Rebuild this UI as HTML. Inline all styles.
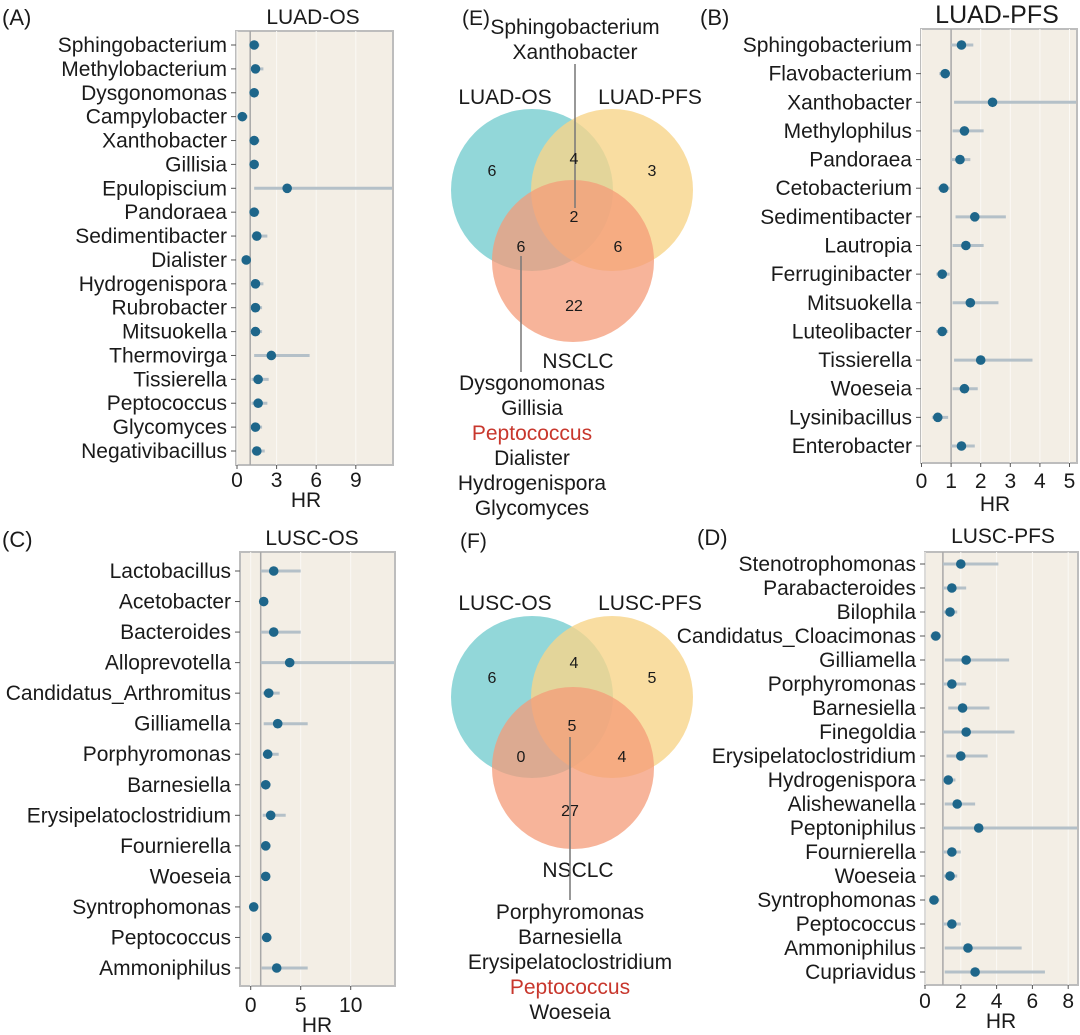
<!DOCTYPE html>
<html><head><meta charset="utf-8"><style>
body{margin:0;background:#fff}
svg{display:block;font-family:"Liberation Sans",sans-serif}
</style></head><body>
<svg id="fig" width="1080" height="1035" viewBox="0 0 1080 1035">
<g id="venn-e">
 <circle cx="532" cy="190" r="81" fill="#7fd0d2" opacity="0.85"/>
 <circle cx="612" cy="190" r="81" fill="#f7d58a" opacity="0.8"/>
 <circle cx="573" cy="261" r="81" fill="#f49b78" opacity="0.75"/>
</g>
<g id="venn-f">
 <circle cx="532" cy="697" r="81" fill="#7fd0d2" opacity="0.85"/>
 <circle cx="612" cy="697" r="81" fill="#f7d58a" opacity="0.8"/>
 <circle cx="573" cy="768" r="81" fill="#f49b78" opacity="0.75"/>
</g>
<g font-size="21" fill="#1a1a1a" text-anchor="middle">
 <text x="462" y="25" text-anchor="start">(E)</text>
 <text x="575" y="34">Sphingobacterium</text>
 <text x="575" y="59">Xanthobacter</text>
 <line x1="575" y1="64" x2="575" y2="208" stroke="#777" stroke-width="1.5"/>
 <text x="505" y="104">LUAD-OS</text>
 <text x="650" y="104">LUAD-PFS</text>
 <text x="578" y="368">NSCLC</text>
 <g font-size="16">
  <text x="492" y="176">6</text><text x="574" y="164">4</text><text x="652" y="176">3</text>
  <text x="574" y="222">2</text><text x="521" y="252">6</text><text x="618" y="252">6</text><text x="574" y="311">22</text>
 </g>
 <line x1="521" y1="256" x2="521" y2="372" stroke="#777" stroke-width="1.5"/>
 <text x="532" y="390">Dysgonomonas</text>
 <text x="532" y="415">Gillisia</text>
 <text x="532" y="440" fill="#c8372d">Peptococcus</text>
 <text x="532" y="465">Dialister</text>
 <text x="532" y="490">Hydrogenispora</text>
 <text x="532" y="515">Glycomyces</text>

 <text x="460" y="548" text-anchor="start">(F)</text>
 <text x="505" y="610">LUSC-OS</text>
 <text x="650" y="610">LUSC-PFS</text>
 <text x="578" y="877">NSCLC</text>
 <g font-size="16">
  <text x="492" y="683">6</text><text x="574" y="668">4</text><text x="652" y="683">5</text>
  <text x="572" y="731">5</text><text x="521" y="762">0</text><text x="622" y="762">4</text><text x="570" y="816">27</text>
 </g>
 <line x1="570" y1="737" x2="570" y2="900" stroke="#777" stroke-width="1.5"/>
 <text x="570" y="919">Porphyromonas</text>
 <text x="570" y="944">Barnesiella</text>
 <text x="570" y="969">Erysipelatoclostridium</text>
 <text x="570" y="994" fill="#c8372d">Peptococcus</text>
 <text x="570" y="1019">Woeseia</text>
</g>
<g id="forests"></g>
</svg>
<script>
// Panel A: LUAD-OS
const aNames=["Sphingobacterium","Methylobacterium","Dysgonomonas","Campylobacter","Xanthobacter","Gillisia","Epulopiscium","Pandoraea","Sedimentibacter","Dialister","Hydrogenispora","Rubrobacter","Mitsuokella","Thermovirga","Tissierella","Peptococcus","Glycomyces","Negativibacillus"];
const aHR=[1.3,1.4,1.3,0.4,1.3,1.3,3.8,1.3,1.5,0.7,1.4,1.4,1.4,2.6,1.6,1.6,1.4,1.5];
const aLow=[1.0,1.0,1.0,0.1,1.0,1.0,1.3,1.0,1.1,0.4,1.0,1.0,1.0,1.3,1.1,1.1,1.0,1.1];
const aHigh=[1.7,2.0,1.6,0.8,1.7,1.5,12,1.7,2.3,0.9,2.0,1.9,1.9,5.5,2.4,2.3,1.9,2.1];
const aTicks=[0,3,6,9];
// Panel B: LUAD-PFS
const bNames=["Sphingobacterium","Flavobacterium","Xanthobacter","Methylophilus","Pandoraea","Cetobacterium","Sedimentibacter","Lautropia","Ferruginibacter","Mitsuokella","Luteolibacter","Tissierella","Woeseia","Lysinibacillus","Enterobacter"];
const bHR=[1.35,0.8,2.4,1.45,1.3,0.75,1.8,1.5,0.7,1.65,0.7,2.0,1.45,0.55,1.35];
const bLow=[1.0,0.6,1.1,1.05,1.0,0.55,1.15,1.05,0.5,1.05,0.5,1.1,1.05,0.35,1.0];
const bHigh=[1.75,0.95,5.3,2.1,1.65,0.95,2.85,2.1,0.95,2.6,0.9,3.75,1.9,0.9,1.8];
const bTicks=[0,1,2,3,4,5];
// Panel C: LUSC-OS
const cNames=["Lactobacillus","Acetobacter","Bacteroides","Alloprevotella","Candidatus_Arthromitus","Gilliamella","Porphyromonas","Barnesiella","Erysipelatoclostridium","Fournierella","Woeseia","Syntrophomonas","Peptococcus","Ammoniphilus"];
const cHR=[2.3,1.3,2.3,3.9,1.8,2.7,1.7,1.5,2.0,1.5,1.5,0.3,1.6,2.6];
const cLow=[1.0,1.0,1.0,1.0,1.2,1.3,1.2,1.1,1.2,1.1,1.1,0.1,1.1,1.1];
const cHigh=[5.0,1.5,5.0,15,2.9,5.7,2.8,2.0,3.5,2.0,1.9,0.6,2.1,5.7];
const cTicks=[0,5,10];
// Panel D: LUSC-PFS
const dNames=["Stenotrophomonas","Parabacteroides","Bilophila","Candidatus_Cloacimonas","Gilliamella","Porphyromonas","Barnesiella","Finegoldia","Erysipelatoclostridium","Hydrogenispora","Alishewanella","Peptoniphilus","Fournierella","Woeseia","Syntrophomonas","Peptococcus","Ammoniphilus","Cupriavidus"];
const dHR=[2.0,1.5,1.4,0.6,2.3,1.5,2.1,2.3,2.0,1.3,1.8,3.0,1.5,1.4,0.5,1.5,2.4,2.8];
const dLow=[1.0,1.0,1.0,0.3,1.1,1.0,1.3,1.0,1.2,1.0,1.1,1.0,1.0,1.0,0.3,1.0,1.1,1.1];
const dHigh=[4.1,2.3,1.8,0.9,4.7,2.3,3.6,5.0,3.5,1.7,2.8,9,2.0,1.8,0.8,2.0,5.4,6.7];
const dTicks=[0,2,4,6,8];

const NS="http://www.w3.org/2000/svg";
const root=document.getElementById('forests');
function mk(tag,attrs,parent,text){const e=document.createElementNS(NS,tag);for(const k in attrs)e.setAttribute(k,attrs[k]);if(text!==undefined)e.textContent=text;parent.appendChild(e);return e;}

function forest(id,cfg,names,hr,low,high,ticks){
  const g=mk('g',{},root);
  
  
  const xs=v=>cfg.x0+(v-cfg.v0)*cfg.unit;
  const n=names.length;
  const ys=i=>cfg.y0+i*(cfg.y1-cfg.y0)/(n-1);
  const bg=mk('rect',{x:cfg.L,y:cfg.T,width:cfg.R-cfg.L,height:cfg.B-cfg.T,fill:'#f3eee5',stroke:'#bdbdbd','stroke-width':2},g);
  
  
  ticks.forEach(t=>{const x=xs(t);
    const gl=mk('line',{x1:x,x2:x,y1:cfg.T,y2:cfg.B,stroke:'#fbf9f5','stroke-width':1},g);
    
    
    mk('line',{x1:x,x2:x,y1:cfg.B,y2:cfg.B+4,stroke:'#555','stroke-width':1},g);
    const tl=mk('text',{x:x,y:cfg.tickY,'font-size':21,'text-anchor':'middle',fill:'#1a1a1a'},g,String(t));
    
    
  });
  const ref=mk('line',{x1:xs(1),x2:xs(1),y1:cfg.T,y2:cfg.B,stroke:'#a8a8a8','stroke-width':1.5},g);
  
  
  names.forEach((nm,i)=>{const y=ys(i);
    mk('line',{x1:cfg.L-5,x2:cfg.L,y1:y,y2:y,stroke:'#555','stroke-width':1},g);
    const lb=mk('text',{x:cfg.L-9,y:y+7,'font-size':21,'text-anchor':'end',fill:'#1a1a1a'},g,nm);
    
    
    const x1=Math.max(xs(low[i]),cfg.L), x2=Math.min(xs(high[i]),cfg.R-1);
    const ci=mk('line',{x1:x1,x2:x2,y1:y,y2:y,stroke:'#b4c0c8','stroke-width':3},g);
    
    
    const pt=mk('circle',{cx:xs(hr[i]),cy:y,r:4.8,fill:'#1e668a'},g);
    
    
  });
  const tt=mk('text',{x:cfg.titleX,y:cfg.titleY,'font-size':cfg.titleSize,'text-anchor':'middle',fill:'#1a1a1a'},g,cfg.title);
  
  
  const ax=mk('text',{x:cfg.hrX,y:cfg.hrY,'font-size':21,'text-anchor':'middle',fill:'#1a1a1a'},g,'HR');
  
  
  const pl=mk('text',{x:cfg.pX,y:cfg.pY,'font-size':22,fill:'#1a1a1a'},g,cfg.plabel);
  
  
}
forest('forest-luad-os',{L:236,R:393,T:31,B:465,x0:237,v0:0,unit:13.2,y0:45,y1:451,tickY:487,hrX:306,hrY:507,title:'LUAD-OS',titleX:313,titleY:24,titleSize:21,plabel:'(A)',pX:2,pY:25},aNames,aHR,aLow,aHigh,aTicks);
forest('forest-luad-pfs',{L:921,R:1077,T:29,B:463,x0:921.5,v0:0,unit:29.6,y0:45,y1:446,tickY:488,hrX:995,hrY:511,title:'LUAD-PFS',titleX:997,titleY:23,titleSize:25,plabel:'(B)',pX:700,pY:25},bNames,bHR,bLow,bHigh,bTicks);
forest('forest-lusc-os',{L:240,R:395,T:552,B:986,x0:250.7,v0:0,unit:10,y0:571,y1:968,tickY:1012,hrX:317,hrY:1032,title:'LUSC-OS',titleX:312,titleY:545,titleSize:21,plabel:'(C)',pX:2,pY:547},cNames,cHR,cLow,cHigh,cTicks);
forest('forest-lusc-pfs',{L:925,R:1078,T:552,B:985,x0:925,v0:0,unit:17.9,y0:564,y1:972,tickY:1008,hrX:1001,hrY:1028,title:'LUSC-PFS',titleX:1003,titleY:543,titleSize:21,plabel:'(D)',pX:697,pY:545},dNames,dHR,dLow,dHigh,dTicks);
</script>
</body></html>
